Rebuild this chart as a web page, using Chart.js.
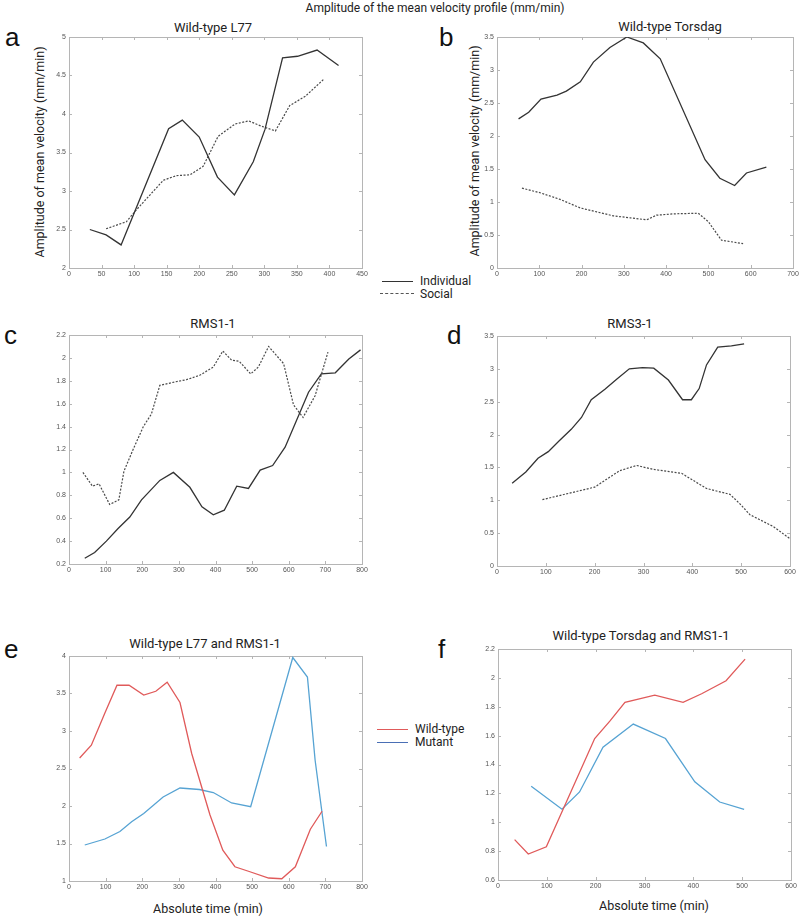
<!DOCTYPE html>
<html>
<head>
<meta charset="utf-8">
<script src="https://cdn.jsdelivr.net/npm/chart.js@4.4.1/dist/chart.umd.min.js"></script>
<style>
  body { margin: 0; background: #fff; }
  #page { position: relative; width: 800px; height: 919px; overflow: hidden; font-family: Roboto, "Liberation Sans", sans-serif; color: #222; }
  canvas { position: absolute; }
  .t { position: absolute; white-space: nowrap; transform: translate(-50%, -50%); font-size: 13px; line-height: 1; }
  .yt { position: absolute; white-space: nowrap; transform: translate(-50%, -50%) rotate(-90deg); font-size: 12.5px; line-height: 1; }
  .letter { position: absolute; font-size: 26px; line-height: 1; font-family: "Liberation Sans", Arial, sans-serif; color: #111; }
  .leg { position: absolute; font-size: 12px; line-height: 1; white-space: nowrap; }
  .swatch { position: absolute; height: 0; }
</style>
</head>
<body>
<div id="page">
  <div class="t" style="left:435px;top:8px;font-size:12px;">Amplitude of the mean velocity profile (mm/min)</div>

  <div class="letter" style="left:5px;top:24px;">a</div>
  <div class="letter" style="left:439px;top:24px;">b</div>
  <div class="letter" style="left:4px;top:322px;">c</div>
  <div class="letter" style="left:447px;top:322px;">d</div>
  <div class="letter" style="left:4px;top:636px;">e</div>
  <div class="letter" style="left:438px;top:636px;">f</div>

  <div class="t" style="left:213px;top:27px;">Wild-type L77</div>
  <div class="t" style="left:670px;top:26px;">Wild-type Torsdag</div>
  <div class="t" style="left:213px;top:323px;">RMS1-1</div>
  <div class="t" style="left:630px;top:323px;">RMS3-1</div>
  <div class="t" style="left:205px;top:643px;">Wild-type L77 and RMS1-1</div>
  <div class="t" style="left:641px;top:635px;">Wild-type Torsdag and RMS1-1</div>

  <div class="yt" style="left:40px;top:152px;">Amplitude of mean velocity (mm/min)</div>
  <div class="yt" style="left:475px;top:151px;">Amplitude of mean velocity (mm/min)</div>
  <div class="t" style="left:208px;top:909px;font-size:12.5px;">Absolute time (min)</div>
  <div class="t" style="left:654px;top:906px;font-size:12.5px;">Absolute time (min)</div>

  <div class="swatch" style="left:382px;top:281px;width:31px;border-top:1.5px solid #333;"></div>
  <div class="leg" style="left:420px;top:275px;">Individual</div>
  <div class="swatch" style="left:380px;top:293px;width:34px;border-top:1.5px dashed #555;"></div>
  <div class="leg" style="left:420px;top:288px;">Social</div>

  <div class="swatch" style="left:377px;top:729px;width:31px;border-top:1.5px solid #e05a5a;"></div>
  <div class="leg" style="left:415px;top:723px;">Wild-type</div>
  <div class="swatch" style="left:377px;top:742px;width:31px;border-top:1.5px solid #4a6fb5;"></div>
  <div class="leg" style="left:415px;top:736px;">Mutant</div>
</div>

<script>
// panel a - Wild-type L77
const aIndTime = [32, 57, 80, 153, 174, 200, 228, 254, 283, 301, 328, 351, 381, 414];
const aIndAmp  = [2.50, 2.43, 2.30, 3.81, 3.92, 3.70, 3.18, 2.95, 3.38, 3.80, 4.73, 4.75, 4.83, 4.63];
const aSocTime = [57, 88, 104, 145, 165, 186, 206, 229, 255, 276, 296, 317, 339, 363, 391];
const aSocAmp  = [2.51, 2.60, 2.76, 3.14, 3.20, 3.21, 3.32, 3.71, 3.87, 3.91, 3.84, 3.78, 4.11, 4.23, 4.45];

// panel b - Wild-type Torsdag
const bIndTime = [51, 75, 104, 142, 164, 197, 228, 267, 307, 346, 386, 492, 527, 562, 590, 637];
const bIndAmp  = [2.26, 2.36, 2.56, 2.62, 2.68, 2.82, 3.12, 3.34, 3.50, 3.41, 3.17, 1.64, 1.36, 1.25, 1.44, 1.53];
const bSocTime = [59, 102, 149, 197, 236, 275, 315, 354, 377, 417, 476, 500, 531, 582];
const bSocAmp  = [1.21, 1.14, 1.04, 0.91, 0.85, 0.79, 0.76, 0.73, 0.80, 0.82, 0.83, 0.70, 0.42, 0.37];

// panel c - RMS1-1
const cIndTime = [43, 70, 102, 134, 166, 198, 248, 285, 330, 363, 394, 424, 458, 490, 522, 556, 590, 622, 654, 689, 727, 764, 796];
const cIndAmp  = [0.25, 0.30, 0.40, 0.51, 0.61, 0.76, 0.93, 1.00, 0.87, 0.70, 0.63, 0.67, 0.88, 0.86, 1.02, 1.06, 1.22, 1.46, 1.70, 1.86, 1.87, 1.99, 2.07];
const cSocTime = [38, 64, 82, 111, 136, 150, 175, 203, 225, 248, 289, 321, 358, 394, 420, 444, 465, 496, 517, 545, 586, 613, 639, 672, 707];
const cSocAmp  = [1.00, 0.88, 0.90, 0.72, 0.76, 1.01, 1.20, 1.40, 1.51, 1.76, 1.79, 1.81, 1.85, 1.92, 2.06, 1.98, 1.97, 1.86, 1.92, 2.10, 1.95, 1.59, 1.48, 1.67, 2.05];

// panel d - RMS3-1
const dIndTime = [31, 59, 84, 105, 128, 152, 173, 193, 221, 245, 271, 298, 321, 351, 380, 398, 414, 429, 452, 480, 506];
const dIndAmp  = [1.26, 1.43, 1.64, 1.74, 1.91, 2.08, 2.26, 2.53, 2.69, 2.84, 3.00, 3.02, 3.01, 2.83, 2.53, 2.53, 2.70, 3.06, 3.33, 3.35, 3.38];
const dSocTime = [93, 200, 251, 286, 320, 378, 429, 477, 497, 518, 566, 599];
const dSocAmp  = [1.01, 1.20, 1.45, 1.53, 1.47, 1.41, 1.18, 1.09, 0.95, 0.78, 0.60, 0.42];

// panel e - Wild-type L77 and RMS1-1
const eWildTime = [29, 61, 98, 131, 164, 204, 237, 268, 303, 335, 385, 420, 453, 490, 545, 581, 618, 659, 691];
const eWildAmp  = [2.64, 2.81, 3.24, 3.61, 3.61, 3.48, 3.53, 3.65, 3.38, 2.70, 1.88, 1.41, 1.19, 1.13, 1.04, 1.03, 1.19, 1.69, 1.93];
const eMutTime  = [43, 98, 139, 171, 204, 257, 303, 356, 394, 444, 496, 611, 651, 672, 703];
const eMutAmp   = [1.48, 1.56, 1.66, 1.79, 1.90, 2.12, 2.24, 2.22, 2.18, 2.04, 1.99, 3.98, 3.72, 2.61, 1.46];

// panel f - Wild-type Torsdag and RMS1-1
const fWildTime = [34, 62, 99, 198, 229, 260, 321, 379, 417, 467, 506];
const fWildAmp  = [0.88, 0.78, 0.83, 1.58, 1.70, 1.83, 1.88, 1.83, 1.89, 1.98, 2.13];
const fMutTime  = [68, 131, 167, 215, 277, 343, 403, 454, 504];
const fMutAmp   = [1.25, 1.09, 1.21, 1.52, 1.68, 1.58, 1.28, 1.14, 1.09];

// axis ranges [min, max, step]
const aXAxis = [0, 450, 50],  aYAxis = [2, 5, 0.5];
const bXAxis = [0, 700, 100], bYAxis = [0, 3.5, 0.5];
const cXAxis = [0, 800, 100], cYAxis = [0.2, 2.2, 0.2];
const dXAxis = [0, 600, 100], dYAxis = [0, 3.5, 0.5];
const eXAxis = [0, 800, 100], eYAxis = [1, 4, 0.5];
const fXAxis = [0, 600, 100], fYAxis = [0.6, 2.2, 0.2];

const Y_W = 30, X_H = 14;          // fixed axis box sizes
const PADL = 35, PADT = 8, PADR = 12, PADB = 22;
const tickFont = { size: 7, family: '"Liberation Sans", Arial, sans-serif' };

function pts(xs, ys) {
  return xs.map((x, i) => ({ x: x, y: ys[i] }));
}

function solid(xs, ys, color) {
  return { data: pts(xs, ys), borderColor: color, borderWidth: 1.3, pointRadius: 0, tension: 0, fill: false };
}

function dashed(xs, ys, color) {
  return { ...solid(xs, ys, color), borderDash: [2, 1.5], borderWidth: 1.2 };
}

// matlab-like box with inward tick marks
const framePlugin = {
  id: 'frame',
  beforeDatasetsDraw(chart) {
    const { ctx, chartArea: a, scales } = chart;
    ctx.save();
    ctx.strokeStyle = '#b5b5b5';
    ctx.lineWidth = 1;
    ctx.strokeRect(Math.round(a.left) + 0.5, Math.round(a.top) + 0.5, Math.round(a.width), Math.round(a.height));
    ctx.beginPath();
    scales.x.ticks.forEach(t => {
      const px = Math.round(scales.x.getPixelForValue(t.value)) + 0.5;
      ctx.moveTo(px, a.bottom); ctx.lineTo(px, a.bottom - 3);
      ctx.moveTo(px, a.top); ctx.lineTo(px, a.top + 3);
    });
    scales.y.ticks.forEach(t => {
      const py = Math.round(scales.y.getPixelForValue(t.value)) + 0.5;
      ctx.moveTo(a.left, py); ctx.lineTo(a.left + 3, py);
      ctx.moveTo(a.right, py); ctx.lineTo(a.right - 3, py);
    });
    ctx.stroke();
    ctx.restore();
  }
};

function fixAxis(size, horizontal) {
  return function (scale) {
    if (horizontal) scale.height = size; else scale.width = size;
    scale.paddingLeft = scale.paddingRight = scale.paddingTop = scale.paddingBottom = 0;
  };
}

function makePanel(box, xAxis, yAxis, datasets) {
  const canvas = document.createElement('canvas');
  const w = box[2] - box[0] + PADL + PADR;
  const h = box[3] - box[1] + PADT + PADB;
  canvas.width = w;
  canvas.height = h;
  canvas.style.left = (box[0] - PADL) + 'px';
  canvas.style.top = (box[1] - PADT) + 'px';
  document.getElementById('page').appendChild(canvas);

  const fmt = v => String(+Number(v).toFixed(2));

  return new Chart(canvas.getContext('2d'), {
    type: 'line',
    data: { datasets: datasets },
    options: {
      responsive: false,
      animation: false,
      events: [],
      layout: { padding: { left: PADL - Y_W, top: PADT, right: PADR, bottom: PADB - X_H } },
      plugins: { legend: { display: false }, tooltip: { enabled: false } },
      scales: {
        x: {
          type: 'linear', min: xAxis[0], max: xAxis[1],
          ticks: { stepSize: xAxis[2], font: tickFont, color: '#555', padding: 2, maxRotation: 0, autoSkip: false, callback: fmt },
          grid: { display: false, drawTicks: false },
          border: { display: false },
          afterFit: fixAxis(X_H, true)
        },
        y: {
          type: 'linear', min: yAxis[0], max: yAxis[1],
          ticks: { stepSize: yAxis[2], font: tickFont, color: '#555', padding: 3, autoSkip: false, callback: fmt },
          grid: { display: false, drawTicks: false },
          border: { display: false },
          afterFit: fixAxis(Y_W, false)
        }
      }
    },
    plugins: [framePlugin]
  });
}

const INK = '#333', INK2 = '#4a4a4a', RED = '#e05a5a', BLUE = '#56a3d3';

makePanel([69, 37, 362, 268], aXAxis, aYAxis, [solid(aIndTime, aIndAmp, INK), dashed(aSocTime, aSocAmp, INK2)]);
makePanel([497, 37, 793, 268], bXAxis, bYAxis, [solid(bIndTime, bIndAmp, INK), dashed(bSocTime, bSocAmp, INK2)]);
makePanel([69, 335, 362, 564], cXAxis, cYAxis, [solid(cIndTime, cIndAmp, INK), dashed(cSocTime, cSocAmp, INK2)]);
makePanel([497, 336, 790, 566], dXAxis, dYAxis, [solid(dIndTime, dIndAmp, INK), dashed(dSocTime, dSocAmp, INK2)]);
makePanel([69, 656, 362, 881], eXAxis, eYAxis, [solid(eWildTime, eWildAmp, RED), solid(eMutTime, eMutAmp, BLUE)]);
makePanel([498, 649, 791, 880], fXAxis, fYAxis, [solid(fWildTime, fWildAmp, RED), solid(fMutTime, fMutAmp, BLUE)]);
</script>
</body>
</html>
